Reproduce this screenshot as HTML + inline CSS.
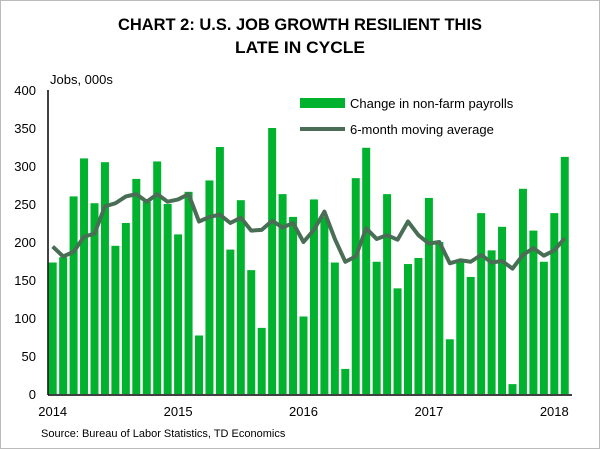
<!DOCTYPE html>
<html><head><style>
body{margin:0;background:#fff;}
svg{display:block;font-family:"Liberation Sans",Arial,sans-serif;}
</style></head><body>
<svg width="600" height="449" viewBox="0 0 600 449">
<rect x="0.5" y="0.5" width="599" height="448" fill="#fff" stroke="#bbb"/>
<text x="300" y="30" text-anchor="middle" font-size="17" font-weight="bold" textLength="364" lengthAdjust="spacingAndGlyphs">CHART 2: U.S. JOB GROWTH RESILIENT THIS</text>
<text x="300" y="53" text-anchor="middle" font-size="17" font-weight="bold" textLength="130" lengthAdjust="spacingAndGlyphs">LATE IN CYCLE</text>
<text x="50" y="84" font-size="13">Jobs, 000s</text>
<g id="yticks"></g>
<g id="bars"></g>
<path id="ma" fill="none" stroke="#4a6e55" stroke-width="4" stroke-linejoin="round"/>
<line x1="48" y1="90" x2="48" y2="395" stroke="#000" stroke-width="1.5"/>
<line x1="48" y1="395" x2="572" y2="395" stroke="#000" stroke-width="1.5"/>
<g id="xticks"></g>
<rect x="300" y="98" width="45" height="10" fill="#00b22d"/>
<text x="350" y="108" font-size="13">Change in non-farm payrolls</text>
<line x1="300" y1="129" x2="345" y2="129" stroke="#4a6e55" stroke-width="4"/>
<text x="350" y="134" font-size="13">6-month moving average</text>
<text x="41" y="437" font-size="11">Source: Bureau of Labor Statistics, TD Economics</text>
</svg>
<script>
const payrolls=[173,180,260,310,251,305,195,225,283,253,306,250,210,266,77,281,325,190,255,163,87,350,263,233,102,256,233,173,33,284,324,174,263,139,171,179,258,200,72,174,154,238,189,220,13,270,215,174,238,312];
const movingAvg=[194,181,187,207,211,247,251,260,263,253,263,253,256,263,227,233,236,225,232,215,216,228,219,225,200,216,240,204,174,181,218,204,209,203,227,209,198,200,172,176,174,183,173,175,165,183,192,182,189,205];
const yTicks=[0,50,100,150,200,250,300,350,400];
const xLabels=["2014","2015","2016","2017","2018"];
const NS="http://www.w3.org/2000/svg";
const y=v=>394-v*0.76;
const x=i=>52.7+i*10.45;
const bars=document.getElementById('bars');
payrolls.forEach((v,i)=>{
 const r=document.createElementNS(NS,'rect');
 r.setAttribute('x',x(i)-4);r.setAttribute('width',8);
 r.setAttribute('y',y(v));r.setAttribute('height',394-y(v));
 r.setAttribute('fill','#00b22d');
 
 
 bars.appendChild(r);
});
document.getElementById('ma').setAttribute('d',movingAvg.map((v,i)=>(i?'L':'M')+x(i)+','+y(v)).join(''));
const yt=document.getElementById('yticks');
yTicks.forEach(v=>{
 const t=document.createElementNS(NS,'text');
 t.setAttribute('x',36);t.setAttribute('y',y(v)+5);
 t.setAttribute('text-anchor','end');t.setAttribute('font-size','13');
 t.textContent=v;
 
 
 yt.appendChild(t);
});
const xt=document.getElementById('xticks');
xLabels.forEach((s,k)=>{
 const t=document.createElementNS(NS,'text');
 t.setAttribute('x',x(k*12));t.setAttribute('y',416);
 t.setAttribute('text-anchor','middle');t.setAttribute('font-size','13');
 t.textContent=s;
 
 
 xt.appendChild(t);
});
</script>
</body></html>
